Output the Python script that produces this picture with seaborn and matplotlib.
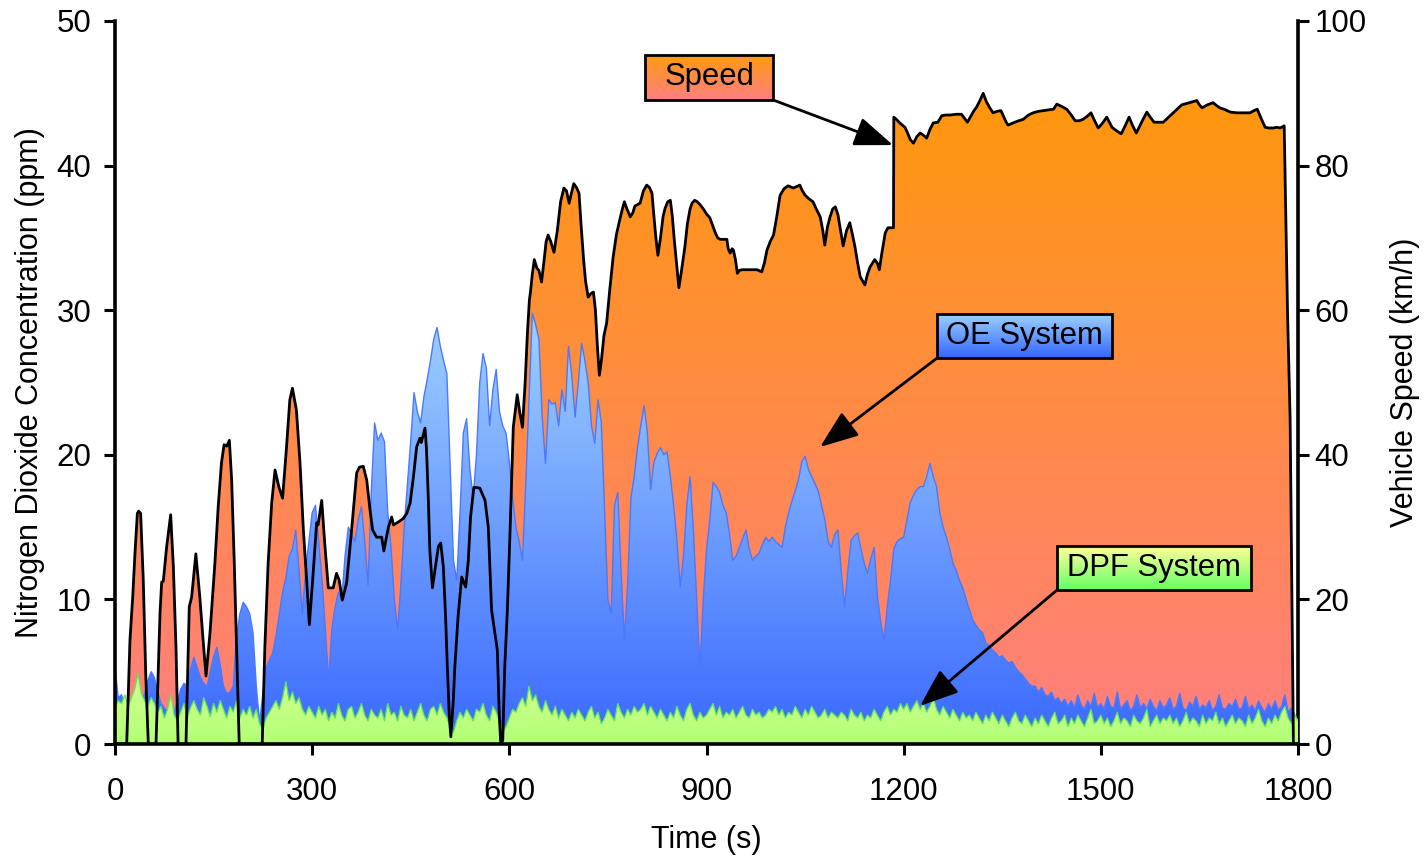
import numpy as np
import pandas as pd
import matplotlib
matplotlib.use("Agg")
import matplotlib.pyplot as plt
import seaborn as sns
from matplotlib.colors import LinearSegmentedColormap
from matplotlib.patches import Rectangle

# ---------------- data ----------------
time_step_s = 5
oe_ppm = [
    5.3, 3.2, 3.4, 2.6, 2.4, 2.2, 2.6, 2.4, 2.8, 3.5, 4.4, 5.0, 4.6, 3.6, 2.8, 2.5, 2.2, 1.8, 2.2, 3.0,
    3.8, 4.2, 4.0, 5.2, 6.0, 5.3, 4.6, 4.2, 4.0, 5.0, 6.0, 6.7, 5.5, 4.0, 3.5, 3.6, 4.0, 7.5, 9.0, 9.8,
    9.5, 9.0, 7.7, 4.0, 1.5, 3.5, 5.3, 5.8, 6.3, 7.5, 9.0, 10.5, 11.5, 13.0, 13.5, 14.8, 12.0, 9.0, 12.0, 14.0,
    16.0, 16.5, 14.0, 11.3, 8.0, 4.4, 8.0, 9.5, 10.5, 10.0, 13.0, 15.0, 14.5, 14.0, 15.5, 16.4, 14.0, 11.0, 17.5, 22.2,
    21.0, 21.5, 20.9, 16.0, 13.6, 10.0, 7.9, 11.0, 15.0, 18.0, 21.0, 24.3, 23.0, 22.2, 24.0, 25.2, 26.5, 28.0, 28.8, 27.5,
    26.5, 25.6, 19.2, 12.7, 11.3, 16.0, 21.5, 22.5, 19.0, 17.0, 20.0, 25.0, 27.0, 26.0, 22.0, 24.5, 25.9, 23.0, 22.0, 21.5,
    19.5, 17.0, 15.0, 14.0, 12.7, 18.0, 24.0, 29.8, 29.0, 28.0, 22.6, 19.4, 23.8, 23.5, 23.6, 22.0, 24.5, 23.0, 27.5, 25.5,
    22.6, 25.0, 27.7, 26.5, 25.0, 22.0, 20.8, 23.8, 22.2, 16.0, 10.0, 9.0, 16.5, 17.4, 12.0, 7.2, 11.0, 17.0, 18.5, 20.5,
    22.0, 23.4, 21.5, 17.6, 19.5, 20.1, 20.5, 20.0, 20.2, 18.5, 16.5, 14.1, 10.9, 13.0, 16.5, 18.5, 14.8, 10.0, 5.3, 10.0,
    13.4, 15.5, 18.1, 17.8, 17.4, 16.5, 16.0, 14.5, 12.7, 13.0, 13.6, 14.2, 14.8, 13.5, 12.7, 13.0, 13.2, 13.8, 14.3, 14.0,
    14.3, 14.0, 13.8, 13.6, 15.0, 16.0, 16.8, 17.5, 18.3, 19.5, 19.9, 19.0, 18.5, 18.0, 17.5, 16.5, 15.5, 14.0, 13.6, 14.5,
    14.8, 12.0, 9.5, 12.0, 14.1, 14.4, 14.6, 13.5, 12.5, 11.8, 12.8, 13.6, 10.2, 8.5, 7.2, 9.5, 11.3, 13.5, 14.0, 14.2,
    14.3, 15.5, 16.7, 17.2, 17.6, 17.8, 17.8, 18.5, 19.4, 18.5, 17.8, 16.0, 15.0, 14.3, 13.5, 12.5, 12.0, 11.3, 10.8, 10.0,
    9.3, 8.6, 8.2, 7.9, 7.7, 7.0, 6.8, 6.5, 6.3, 6.0, 6.1, 5.8, 5.6, 5.7, 5.3, 5.0, 4.8, 4.5, 4.2, 4.0,
    4.0, 3.6, 3.9, 3.4, 3.3, 3.6, 3.0, 3.2, 2.8, 3.1, 2.6, 3.0, 2.5, 3.4, 2.7, 2.4, 3.0, 2.6, 3.5, 2.5,
    2.8, 2.4, 3.3, 2.6, 2.5, 3.6, 2.4, 2.7, 3.0, 2.3, 2.6, 3.4, 2.5, 2.8, 2.4, 3.1, 2.6, 2.3, 3.0, 2.5,
    2.7, 3.2, 2.4, 2.6, 3.5, 2.5, 2.3, 2.9, 2.6, 3.3, 2.4, 2.7, 2.5, 3.0, 2.3, 2.6, 3.4, 2.5, 2.4, 2.8,
    2.6, 3.1, 2.4, 2.5, 3.3, 2.4, 2.7, 2.3, 3.0, 2.5, 2.2, 2.8, 2.4, 3.0, 2.3, 2.6, 3.4, 2.2, 2.5, 2.0, 1.5,
]
dpf_ppm = [
    2.5, 3.0, 2.8, 3.4, 2.6, 3.2, 3.8, 4.9, 3.5, 3.0, 2.6, 3.2, 2.8, 2.2, 2.6, 1.8, 2.4, 3.4, 2.0, 1.6,
    2.2, 2.8, 1.8, 2.5, 3.0, 2.4, 2.0, 3.2, 2.6, 1.9, 2.8, 2.2, 3.0, 2.4, 1.8, 2.6, 2.2, 3.0, 1.8, 2.4,
    2.0, 2.6, 1.8, 2.4, 1.4, 1.0, 1.8, 2.2, 2.6, 3.0, 2.4, 3.2, 4.3, 3.0, 3.6, 2.8, 3.2, 2.4, 2.0, 2.6,
    2.2, 1.8, 2.6, 2.0, 2.4, 1.6, 2.2, 1.8, 2.8, 2.0, 1.6, 2.4, 2.6, 1.8, 2.2, 2.8, 2.0, 1.6, 2.4, 2.0,
    1.8, 2.4, 1.6, 2.8, 2.0, 2.2, 1.6, 2.6, 2.0, 1.8, 2.4, 1.6, 2.2, 2.8, 2.0, 1.6, 2.4, 2.6, 2.0, 2.8,
    2.2, 1.8, 1.2, 0.8, 1.6, 2.2, 1.8, 2.4, 2.0, 1.6, 2.4, 2.2, 2.8, 2.0, 1.6, 2.6, 2.2, 1.6, 0.8, 1.2,
    1.8, 2.4, 2.2, 2.8, 3.2, 2.6, 4.0, 3.0, 3.4, 2.6, 2.2, 3.0, 2.4, 2.0, 2.6, 1.8, 2.4, 2.0, 1.6, 2.2,
    1.8, 2.4, 2.0, 1.6, 2.2, 2.6, 1.8, 2.2, 1.4, 1.8, 2.4, 2.0, 1.6, 2.8, 2.2, 1.8, 2.4, 2.0, 2.6, 2.2,
    2.4, 2.8, 2.0, 2.6, 2.2, 1.8, 2.4, 2.0, 1.6, 2.2, 1.8, 2.6, 2.0, 1.6, 2.4, 2.8, 2.0, 1.6, 2.2, 1.8,
    2.0, 2.4, 2.8, 2.0, 2.6, 1.8, 2.2, 2.0, 2.4, 1.8, 2.2, 2.6, 2.0, 1.8, 2.4, 2.0, 2.2, 1.8, 2.0, 2.4,
    2.2, 2.6, 2.0, 2.4, 1.8, 2.2, 2.0, 2.6, 2.2, 1.8, 2.4, 2.0, 2.6, 2.2, 1.8, 2.0, 2.4, 1.8, 2.2, 2.0,
    1.8, 2.2, 2.0, 1.6, 2.4, 2.0, 1.8, 2.2, 1.6, 2.0, 1.8, 2.4, 2.0, 1.6, 2.2, 2.6, 2.0, 2.4, 2.2, 2.8,
    2.4, 2.8, 2.2, 2.6, 3.0, 2.4, 2.8, 2.2, 2.6, 3.2, 2.4, 2.0, 2.6, 2.2, 1.8, 2.4, 2.0, 1.6, 2.2, 1.8,
    2.0, 1.6, 2.2, 1.8, 1.4, 2.0, 1.6, 2.2, 1.8, 1.4, 2.0, 1.6, 1.2, 1.8, 2.2, 1.6, 1.4, 2.0, 1.6, 1.2,
    1.8, 1.4, 2.0, 1.6, 1.2, 1.8, 2.2, 1.4, 1.6, 2.0, 1.2, 1.8, 1.4, 2.0, 1.6, 1.2, 1.8, 2.4, 1.4, 1.6,
    2.0, 1.4, 1.8, 1.2, 1.6, 2.2, 1.4, 1.8, 1.6, 1.2, 2.0, 1.6, 1.4, 1.8, 2.4, 1.2, 1.6, 2.0, 1.4, 1.8,
    1.6, 2.0, 1.4, 1.8, 1.2, 1.6, 2.2, 1.4, 1.8, 1.6, 1.2, 2.0, 1.4, 1.8, 1.6, 2.2, 1.4, 1.8, 1.2, 1.6,
    2.0, 1.4, 1.8, 1.6, 1.2, 2.0, 1.4, 1.8, 2.4, 1.6, 1.2, 1.8, 1.4, 2.0, 1.6, 2.2, 2.6, 1.8, 1.4, 2.0, 1.6,
]
speed_t = [
    0, 17.8, 22.8, 27, 30.4, 34, 36, 39, 43, 47, 50.7,
    62.4, 68.5, 71, 73.5, 78.6, 84.7, 88.8, 92.8, 96,
    108, 113, 116.6, 123, 129, 134, 138.5, 144.5, 152, 157, 162, 166, 170, 174, 177.5, 181.5, 185, 189,
    224, 228, 233, 238.4, 243.5, 249.5, 255, 261, 266, 270, 276, 281.5, 286.6, 291.6, 295.7, 300.8, 306.8,
    309, 314.5, 319.5, 324.6, 332, 337, 341, 345.9, 352.5, 360, 367.7, 372, 377.8, 383, 388, 392, 398,
    405.8, 409, 416, 421, 423.7, 431, 438.7, 444, 449, 454, 459, 464, 466, 471.7, 474, 476.8, 479, 483,
    487, 492, 495.6, 499.6, 503, 505.7, 508.7, 511, 514.8, 517, 522, 527.5, 533.6, 537.6, 541, 546, 555,
    563, 568, 573, 578, 581.7, 584.8, 587, 590, 593, 597, 601, 606, 612, 616, 620, 624, 627.5, 630.5,
    632, 635, 638, 642, 645, 649, 653, 656, 659, 663, 668, 673, 678, 683, 687, 691, 694, 698, 702, 706,
    709, 713, 716, 720, 724, 728, 731, 734, 737, 740, 744, 748, 753, 758, 763, 768, 772, 775, 779, 784,
    788, 791, 795, 799, 804, 809, 813, 817, 820, 823, 826, 830, 834, 837, 841, 845, 848, 851, 855, 858,
    862, 867, 871, 875, 878, 882, 886, 891, 896, 900, 905, 909, 913, 917, 921, 931, 933, 936, 939, 941,
    944, 947, 950, 954, 977, 984, 988, 992, 997, 1002, 1007, 1012, 1018, 1024, 1032, 1042, 1046, 1050,
    1056, 1062, 1067, 1073, 1077, 1080, 1084, 1088, 1092, 1096, 1100, 1104, 1108, 1113, 1118, 1122, 1126,
    1130, 1134, 1141, 1145, 1149, 1156, 1160, 1163, 1167, 1172, 1176, 1184.5,
    1185, 1190, 1194, 1198, 1202, 1206, 1210, 1215, 1220, 1225, 1230, 1235, 1240, 1245, 1252, 1258, 1264,
    1271, 1280, 1288, 1292, 1297, 1302, 1307, 1311, 1316, 1321, 1324, 1326, 1331, 1336, 1342, 1348, 1352,
    1356, 1359, 1364, 1369, 1375, 1382, 1390, 1397, 1405, 1412, 1420, 1428, 1433, 1440, 1448, 1455, 1461,
    1467, 1473, 1479, 1485, 1490, 1496, 1502, 1509, 1513, 1517, 1524, 1531, 1537, 1543, 1548, 1554, 1562,
    1570, 1576, 1581, 1588, 1595, 1602, 1610, 1617, 1623, 1635, 1646, 1650, 1654, 1662, 1671, 1676, 1681,
    1690, 1697, 1707, 1717, 1727, 1733, 1738, 1744, 1750, 1756, 1762, 1768, 1773, 1779, 1784, 1788, 1793, 1800,
]
speed_kmh = [
    0, 0, 14.4, 20.4, 26.4, 31.9, 32.2, 31.9, 22.7, 8.9, 0,
    0, 18.1, 22.4, 22.5, 27.3, 31.7, 24.5, 13.4, 0,
    0, 19, 20.3, 26.3, 20.4, 14.4, 9.4, 15.3, 25, 32.8, 38.9, 41.4, 41.2, 42, 36.5, 25, 13.4, 0,
    0, 13.4, 25, 33.3, 37.9, 35.5, 34, 41.1, 47.6, 49.2, 46.2, 38.9, 29.6, 22.7, 16.5, 22.7, 30.6,
    30.3, 33.7, 27.3, 21.6, 21.6, 23.6, 22.7, 19.9, 22.3, 29.6, 37.5, 38.3, 38.4, 36.5, 32.4, 29.6, 28.6,
    28.6, 26.7, 30, 31.4, 30.3, 30.7, 31.2, 31.9, 33.3, 36.9, 41.1, 42.3, 41.7, 43.7, 40.7, 33.7, 26.8, 21.6,
    24.1, 27.3, 27.8, 24.5, 17.6, 10.6, 3.8, 1, 6.1, 10.6, 17.6, 23.1, 21.7, 25.4, 31.4, 35.5, 35.4,
    33.7, 30, 18.5, 15.3, 13, 3.8, 0, 0.5, 10.6, 18.5, 29.2, 43.8, 48.3, 45.8, 43.8, 49.9, 56.8, 61.4,
    62.4, 65, 67, 65.8, 65.5, 63.9, 67, 69.5, 70.4, 69.5, 68, 71, 75, 76.9, 76.5, 74.8, 76, 77.5, 77, 76.2,
    72, 67, 64, 61.8, 62.3, 62.5, 60, 55, 51, 53, 56.5, 58.2, 63, 67.4, 70.5, 72.5, 74, 75, 74, 72.9,
    73.5, 74.4, 74.6, 74.8, 76.5, 77.3, 77, 76.2, 73, 70, 67.6, 70, 73, 74.1, 75, 75.2, 73, 69.7, 66, 63.1,
    65.5, 68.7, 72, 74, 74.8, 75.2, 75, 74.5, 73.9, 73.3, 72.8, 71.8, 70.8, 70, 69.8, 69.8, 68.5, 67.9, 68.5, 68.3,
    67, 65.1, 65.5, 65.6, 65.6, 65.3, 66.5, 68.3, 69.5, 70.4, 73, 75.9, 76.8, 77.2, 76.9, 77.3, 76.5, 75.9,
    75.4, 75, 74, 72.9, 71, 69, 71.5, 72.9, 74, 74.3, 73.2, 71, 68.9, 71, 72.1, 70.5, 68.7,
    66.5, 64.6, 63.5, 65, 66, 67, 66.5, 65.6, 68, 70.7, 71.4, 71.4,
    86.7, 86.3, 85.9, 85.6, 85.3, 84.5, 83.6, 83.1, 84, 84.5, 84.2, 83.8, 85, 85.9, 86, 86.9, 87,
    87, 87.1, 87.1, 86.6, 86, 86.8, 87.6, 88.1, 89, 90, 89.3, 88.8, 88, 87.3, 87.5, 87.6, 86.8,
    86, 85.6, 85.8, 86, 86.2, 86.4, 87, 87.3, 87.5, 87.6, 87.7, 87.8, 88.5, 88.2, 87.8, 87, 86.2,
    86.2, 86.4, 86.8, 87.3, 86.3, 85.2, 85.8, 86.7, 86, 85.3, 84.8, 84.4, 85.5, 86.7, 85.6, 84.5, 86,
    87.4, 86.6, 86, 86, 86, 86.6, 87.3, 87.9, 88.4, 88.7, 89, 88.4, 88, 88.4, 88.7, 88.3, 88,
    87.7, 87.4, 87.3, 87.3, 87.3, 87.6, 87.8, 86.5, 85.3, 85.2, 85.2, 85.3, 85.2, 85.5, 60, 45, 0, 0,
]
x_ticks = [0, 300, 600, 900, 1200, 1500, 1800]
left_ticks = [0, 10, 20, 30, 40, 50]
right_ticks = [0, 20, 40, 60, 80, 100]
labels = ["Speed", "OE System", "DPF System"]

# ---------------- style ----------------
sns.set_theme(style="white")
plt.rcParams['font.family'] = ['Liberation Sans', 'DejaVu Sans']
plt.rcParams['axes.edgecolor'] = 'black'
plt.rcParams['text.color'] = 'black'
plt.rcParams['axes.labelcolor'] = 'black'
plt.rcParams['xtick.color'] = 'black'
plt.rcParams['ytick.color'] = 'black'
plt.rcParams['xtick.labelcolor'] = 'black'
plt.rcParams['ytick.labelcolor'] = 'black'

time_s = np.arange(len(oe_ppm)) * time_step_s
emis = pd.DataFrame({"time": time_s, "OE": oe_ppm, "DPF": dpf_ppm})
spd = pd.DataFrame({"time": speed_t, "speed": speed_kmh})
KMH_PER_PPM = 2.0
spd["speed_ppm_scale"] = spd["speed"] / KMH_PER_PPM

fig = plt.figure(figsize=(14.27, 8.59), dpi=100)
ax = fig.add_axes([115 / 1427, 1 - 744 / 859, (1298 - 115) / 1427, (744 - 21) / 859])

grad = np.linspace(0, 1, 256).reshape(-1, 1)


def gradient_area(x, y, c_bottom, c_top, y0, y1, z):
    poly = ax.fill_between(x, 0, y, facecolor='none', edgecolor='none', zorder=z)
    cmap = LinearSegmentedColormap.from_list('g', [c_bottom, c_top])
    im = ax.imshow(grad, cmap=cmap, aspect='auto', origin='lower',
                   extent=[0, 1800, y0, y1], zorder=z, interpolation='bilinear')
    im.set_clip_path(poly.get_paths()[0], transform=ax.transData)


# speed area (gradient salmon -> orange)
gradient_area(spd["time"], spd["speed_ppm_scale"], '#FF7F80', '#FF9A00', 0, 50, 1)
# OE system area
gradient_area(emis["time"], emis["OE"], '#3A68FF', '#A0D2FF', 0, 30, 2)
sns.lineplot(data=emis, x="time", y="OE", ax=ax, color='#4A78FF', lw=1.0,
             estimator=None, zorder=2.5, legend=False)
# DPF system area
gradient_area(emis["time"], emis["DPF"], '#B0FF78', '#D8FF90', 0, 5, 3)
sns.lineplot(data=emis, x="time", y="DPF", ax=ax, color='#5CE65C', lw=0.9,
             estimator=None, zorder=3.5, legend=False)
# speed line on top
sns.lineplot(data=spd, x="time", y="speed_ppm_scale", ax=ax, color='black', lw=2.0,
             estimator=None, sort=False, zorder=4, legend=False)

ax.set_xlim(0, 1800)
ax.set_ylim(0, 50)
ax.set_xticks(x_ticks)
ax.set_yticks(left_ticks)
ax.set_xlabel("Time (s)", fontsize=22, labelpad=13, color='black')
ax.set_ylabel("Nitrogen Dioxide Concentration (ppm)", fontsize=22, labelpad=8, color='black')
ax.tick_params(axis='x', direction='out', length=8, width=2.2, labelsize=22.5, pad=16,
               bottom=True, color='black', labelcolor='black')
ax.tick_params(axis='y', direction='out', length=8, width=2.2, labelsize=22.5, pad=9,
               left=True, color='black', labelcolor='black')
for s in ['left', 'bottom']:
    ax.spines[s].set_linewidth(2.6)
    ax.spines[s].set_color('black')
    ax.spines[s].set_zorder(10)
ax.spines['top'].set_visible(False)
ax.spines['right'].set_visible(False)

sec = ax.secondary_yaxis('right', functions=(lambda y: y * KMH_PER_PPM, lambda y: y / KMH_PER_PPM))
sec.set_yticks(right_ticks)
sec.tick_params(axis='y', direction='out', length=8, width=2.2, labelsize=22.5, pad=4,
                right=True, color='black', labelcolor='black')
sec.spines['right'].set_linewidth(2.6)
sec.spines['right'].set_color('black')
sec.set_ylabel("Vehicle Speed (km/h)", fontsize=22, rotation=90, labelpad=17, color='black')


# ---------------- annotation boxes ----------------
def label_box(x0, x1, y0, y1, text, c_bottom, c_top, start, tip):
    cmap = LinearSegmentedColormap.from_list('b', [c_bottom, c_top])
    ax.imshow(grad, cmap=cmap, aspect='auto', origin='lower',
              extent=[x0, x1, y0, y1], zorder=6, interpolation='bilinear')
    ax.add_patch(Rectangle((x0, y0), x1 - x0, y1 - y0, fill=False,
                           edgecolor='black', lw=2, zorder=7))
    ax.text((x0 + x1) / 2, (y0 + y1) / 2, text, ha='center', va='center',
            fontsize=22.3, color='black', zorder=8)
    ax.annotate('', xy=tip, xytext=start, zorder=7,
                arrowprops=dict(arrowstyle='-|>,head_length=0.95,head_width=0.36',
                                color='black', lw=2, shrinkA=0, shrinkB=0,
                                mutation_scale=25))


label_box(806.5, 1001.3, 44.54, 47.65, labels[0], '#FF7F80', '#FF9A10',
          (1001.3, 44.54), (1183.8, 41.42))
label_box(1250.8, 1517.0, 26.69, 29.74, labels[1], '#3366FF', '#A0D2FF',
          (1250.8, 26.69), (1072.7, 20.54))
label_box(1433.4, 1728.6, 10.65, 13.69, labels[2], '#66FF66', '#FFFF99',
          (1433.4, 10.65), (1224.9, 2.63))

ax.set_xlim(0, 1800)
ax.set_ylim(0, 50)
fig.savefig("out.png", dpi=100)
